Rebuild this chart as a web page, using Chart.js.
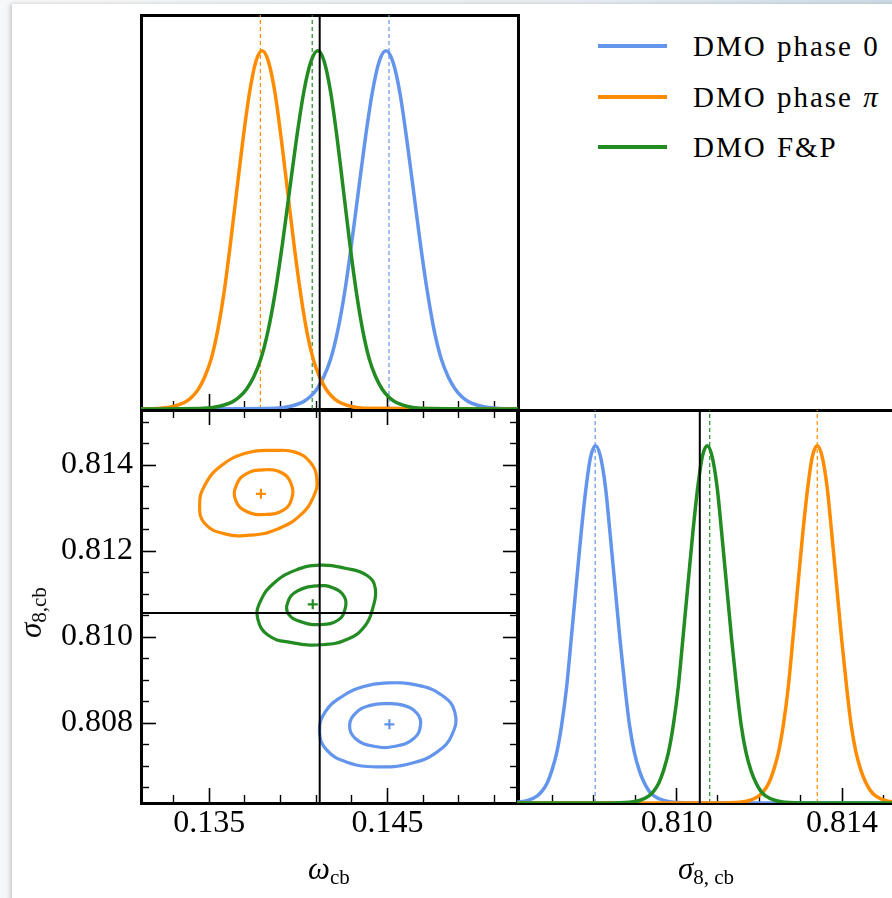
<!DOCTYPE html>
<html>
<head>
<meta charset="utf-8">
<title>Corner plot: omega_cb / sigma_8,cb</title>
<script src="https://cdn.jsdelivr.net/npm/chart.js@4.4.1/dist/chart.umd.min.js"></script>
<style>
  html, body {
    margin: 0;
    padding: 0;
    width: 892px;
    height: 898px;
    overflow: hidden;
    background: linear-gradient(to right, #f6f7f8, #e8eef3 65%, #cddce8);
    font-family: "Liberation Serif", "Times New Roman", serif;
  }
  .sheet {
    position: absolute;
    left: 12px;
    top: 4px;
    width: 900px;
    height: 900px;
    background: #fff;
    box-shadow: -2px 0 4px rgba(0, 0, 0, 0.18);
  }
  canvas { position: absolute; }
  #topChart { left: 0; top: 0; }
  #jointChart { left: 0; top: 400px; }
  #sigmaChart { left: 505px; top: 400px; }
  .label {
    position: absolute;
    font-size: 31px;
    line-height: 30px;
    white-space: nowrap;
    color: #000;
  }
  .label sub {
    font-size: 21px;
    font-style: normal;
    vertical-align: baseline;
    position: relative;
    top: 5px;
  }
  .legend-row { position: absolute; left: 598px; height: 30px; }
  .legend-line { position: absolute; left: 0; width: 69px; height: 4px; }
  .legend-text {
    position: absolute;
    left: 95px;
    font-family: "Liberation Serif", "Times New Roman", serif;
    font-size: 29px;
    line-height: 34px;
    letter-spacing: 2px;
    word-spacing: 1px;
    white-space: nowrap;
    color: #000;
  }
</style>
</head>
<body>
<div class="sheet"></div>
<canvas id="topChart" width="528" height="420"></canvas>
<canvas id="jointChart" width="528" height="460"></canvas>
<canvas id="sigmaChart" width="400" height="460"></canvas>

<div class="label" style="left:308px; top:854px;"><i>ω</i><sub>cb</sub></div>
<div class="label" style="left:678px; top:854px;"><i>σ</i><sub>8, cb</sub></div>
<div class="label" style="left:7px; top:596px; transform: rotate(-90deg);"><i>σ</i><sub>8,cb</sub></div>
<div id="legend"></div>

<script>
// Series
const seriesLabels = ["DMO phase 0", "DMO phase π", "DMO F&P"];
const seriesColors = ["#6495ED", "#FF8C00", "#228B22"];

// Axis ranges
const omegaRange = [0.13117, 0.15233];
const sigmaRange = [0.80614, 0.81528];
const peakRange = [0, 1.1];

// Tick values
const omegaMajorTicks = [0.135, 0.145];
const omegaMinorTicks = [0.133, 0.137, 0.139, 0.141, 0.143, 0.147, 0.149, 0.151];
const sigmaMajorTicks = [0.808, 0.81, 0.812, 0.814];
const sigmaMinorTicks = [0.8065, 0.807, 0.8075, 0.8085, 0.809, 0.8095, 0.8105, 0.811, 0.8115, 0.8125, 0.813, 0.8135, 0.8145, 0.815];
const sigmaMarginalMajorTicks = [0.81, 0.814];
const sigmaMarginalMinorTicks = [0.807, 0.808, 0.809, 0.811, 0.812, 0.813, 0.815];

// Fiducial values (solid black lines)
const truthOmega = 0.1412;
const truthSigma = 0.81056;

// Marginal means (dashed lines), order: phase 0, phase pi, F&P
const meanOmega = [0.14509, 0.13787, 0.14078];
const meanSigma = [0.80803, 0.8134, 0.8108];

// omega_cb marginals (normalised to peak 1)
const omegaX0 = [0.13117, 0.13872, 0.1395, 0.14027, 0.14066, 0.14105, 0.14143, 0.14182, 0.14221, 0.1426, 0.14298, 0.14337, 0.14376, 0.14415, 0.14453, 0.14492, 0.14531, 0.1457, 0.14608, 0.14647, 0.14686, 0.14725, 0.14763, 0.14802, 0.14841, 0.1488, 0.14918, 0.14957, 0.15035, 0.15112, 0.15233];
const omegaY0 = [0, 0.002, 0.007, 0.02, 0.034, 0.056, 0.09, 0.14, 0.218, 0.325, 0.458, 0.607, 0.755, 0.883, 0.969, 1, 0.969, 0.883, 0.755, 0.607, 0.458, 0.325, 0.218, 0.14, 0.09, 0.056, 0.034, 0.02, 0.007, 0.002, 0];
const omegaXPi = [0.13117, 0.13225, 0.13297, 0.13368, 0.13404, 0.1344, 0.13475, 0.13511, 0.13547, 0.13583, 0.13618, 0.13654, 0.1369, 0.13726, 0.13761, 0.13797, 0.13833, 0.13869, 0.13904, 0.1394, 0.13976, 0.14012, 0.14047, 0.14083, 0.14119, 0.14155, 0.1419, 0.14226, 0.14298, 0.14369, 0.15233];
const omegaYPi = [0, 0.002, 0.007, 0.02, 0.034, 0.056, 0.09, 0.14, 0.218, 0.325, 0.458, 0.607, 0.755, 0.883, 0.969, 1, 0.969, 0.883, 0.755, 0.607, 0.458, 0.325, 0.218, 0.14, 0.09, 0.056, 0.034, 0.02, 0.007, 0.002, 0];
const omegaXFP = [0.13117, 0.1347, 0.1355, 0.1363, 0.1367, 0.1371, 0.1375, 0.1379, 0.1383, 0.1387, 0.1391, 0.1395, 0.1399, 0.1403, 0.1407, 0.1411, 0.14146, 0.14182, 0.14218, 0.14254, 0.1429, 0.14326, 0.14362, 0.14398, 0.14434, 0.1447, 0.14506, 0.14542, 0.14614, 0.14686, 0.15233];
const omegaYFP = [0, 0.002, 0.007, 0.02, 0.034, 0.056, 0.09, 0.14, 0.218, 0.325, 0.458, 0.607, 0.755, 0.883, 0.969, 1, 0.969, 0.883, 0.755, 0.607, 0.458, 0.325, 0.218, 0.14, 0.09, 0.056, 0.034, 0.02, 0.007, 0.002, 0];

// sigma_8,cb marginals (normalised to peak 1)
const sigmaX0 = [0.80614, 0.8064, 0.80663, 0.80675, 0.80687, 0.80698, 0.8071, 0.80722, 0.80734, 0.80745, 0.80757, 0.80769, 0.80781, 0.80792, 0.80804, 0.80816, 0.80828, 0.80839, 0.80851, 0.80863, 0.80875, 0.80886, 0.80898, 0.8091, 0.80922, 0.80933, 0.80945, 0.80969, 0.80992, 0.8105, 0.81528];
const sigmaY0 = [0.002, 0.007, 0.02, 0.034, 0.056, 0.09, 0.14, 0.218, 0.325, 0.458, 0.607, 0.755, 0.883, 0.969, 1, 0.969, 0.883, 0.755, 0.607, 0.458, 0.325, 0.218, 0.14, 0.09, 0.056, 0.034, 0.02, 0.007, 0.002, 0, 0];
const sigmaXPi = [0.80614, 0.811, 0.81152, 0.81176, 0.81199, 0.81211, 0.81223, 0.81234, 0.81246, 0.81258, 0.8127, 0.81281, 0.81293, 0.81305, 0.81317, 0.81328, 0.8134, 0.81352, 0.81364, 0.81375, 0.81387, 0.81399, 0.81411, 0.81422, 0.81434, 0.81446, 0.81458, 0.81469, 0.81481, 0.81505, 0.81528];
const sigmaYPi = [0, 0, 0.002, 0.007, 0.02, 0.034, 0.056, 0.09, 0.14, 0.218, 0.325, 0.458, 0.607, 0.755, 0.883, 0.969, 1, 0.969, 0.883, 0.755, 0.607, 0.458, 0.325, 0.218, 0.14, 0.09, 0.056, 0.034, 0.02, 0.007, 0.002];
const sigmaXFP = [0.80614, 0.8083, 0.80886, 0.8091, 0.80933, 0.80945, 0.80957, 0.80968, 0.8098, 0.80992, 0.81004, 0.81015, 0.81027, 0.81039, 0.81051, 0.81062, 0.81074, 0.81086, 0.81098, 0.81109, 0.81121, 0.81133, 0.81145, 0.81156, 0.81168, 0.8118, 0.81192, 0.81203, 0.81215, 0.81239, 0.81262, 0.8132, 0.81528];
const sigmaYFP = [0, 0, 0.002, 0.007, 0.02, 0.034, 0.056, 0.09, 0.14, 0.218, 0.325, 0.458, 0.607, 0.755, 0.883, 0.969, 1, 0.969, 0.883, 0.755, 0.607, 0.458, 0.325, 0.218, 0.14, 0.09, 0.056, 0.034, 0.02, 0.007, 0.002, 0, 0];

// 2D contours [omega_cb, sigma_8,cb], read clockwise
const contour0Outer = [[0.14479, 0.80893], [0.14667, 0.80888], [0.14808, 0.80864], [0.14878, 0.80826], [0.14865, 0.80775], [0.1478, 0.80733], [0.1463, 0.80706], [0.14442, 0.80698], [0.14273, 0.80709], [0.1416, 0.80737], [0.14119, 0.80779], [0.14151, 0.80826], [0.14254, 0.80864], [0.14367, 0.80885]];
const contour0Inner = [[0.14489, 0.80845], [0.14592, 0.80841], [0.14667, 0.80822], [0.14686, 0.80795], [0.14648, 0.80764], [0.14545, 0.80746], [0.14423, 0.80746], [0.1432, 0.80764], [0.14288, 0.80795], [0.14329, 0.80826], [0.14404, 0.80841]];
const contourPiOuter = [[0.13869, 0.81434], [0.13982, 0.8143], [0.14066, 0.81407], [0.14104, 0.81368], [0.14085, 0.81326], [0.1401, 0.81283], [0.13888, 0.81252], [0.13738, 0.81237], [0.13587, 0.8124], [0.13475, 0.81264], [0.13446, 0.81306], [0.13475, 0.81353], [0.13569, 0.81399], [0.13719, 0.81429]];
const contourPiInner = [[0.13813, 0.81389], [0.13907, 0.81382], [0.13959, 0.81357], [0.13963, 0.81322], [0.13916, 0.81295], [0.13813, 0.81285], [0.1371, 0.81292], [0.13648, 0.81318], [0.13653, 0.81354], [0.1371, 0.8138]];
const contourFPOuter = [[0.14123, 0.81167], [0.14263, 0.8116], [0.14386, 0.81143], [0.14432, 0.81113], [0.14417, 0.81066], [0.14376, 0.81027], [0.14282, 0.80996], [0.14132, 0.80982], [0.13963, 0.80987], [0.13831, 0.81004], [0.13772, 0.81043], [0.13785, 0.81081], [0.13859, 0.81124], [0.13982, 0.81155]];
const contourFPInner = [[0.14104, 0.81119], [0.14197, 0.81114], [0.14259, 0.81093], [0.14263, 0.81066], [0.14222, 0.81039], [0.14123, 0.81029], [0.14019, 0.81035], [0.13944, 0.81054], [0.13941, 0.81081], [0.13991, 0.81106]];

// Best-fit points (crosses)
const bestOmega = [0.14511, 0.1379, 0.14081];
const bestSigma = [0.80797, 0.81333, 0.81076];

const SERIF = "'Liberation Serif', 'Times New Roman', serif";
Chart.defaults.font.family = SERIF;
Chart.defaults.color = "#000";

// helpers
function zip(xs, ys) {
  return xs.map((x, i) => ({ x: x, y: ys[i] }));
}

function curve(data, color, width) {
  return {
    data: data,
    borderColor: color,
    borderWidth: width,
    pointRadius: 0,
    fill: false,
    cubicInterpolationMode: "monotone",
  };
}

function contour(points, color) {
  return {
    data: points.map(([x, y]) => ({ x: x, y: y })),
    closed: true,
    borderColor: color,
    borderWidth: 3.2,
    pointRadius: 0,
    fill: false,
    tension: 0.45,
  };
}

// contour lines are closed loops: let the line element wrap around
const closeContours = {
  id: "closeContours",
  afterDatasetsUpdate(chart) {
    chart.data.datasets.forEach((ds, i) => {
      if (!ds.closed) return;
      const line = chart.getDatasetMeta(i).dataset;
      line._loop = true;
      line._fullLoop = true;
      line._segments = undefined;
      line._path = undefined;
      line._pointsUpdated = false;
    });
  },
};

function vline(x, range, color, width, dash) {
  return {
    data: [{ x: x, y: range[0] }, { x: x, y: range[1] }],
    borderColor: color,
    borderWidth: width,
    borderDash: dash,
    pointRadius: 0,
    tension: 0,
  };
}

function hline(y, range, color, width) {
  return {
    data: [{ x: range[0], y: y }, { x: range[1], y: y }],
    borderColor: color,
    borderWidth: width,
    pointRadius: 0,
    tension: 0,
  };
}

// fixed scale size, no extra padding from the tick labels
function pinSize(horizontal, size) {
  return (s) => {
    if (horizontal) s.height = size;
    else s.width = size;
    s.paddingTop = 0;
    s.paddingBottom = 0;
    s.paddingLeft = 0;
    s.paddingRight = 0;
  };
}

// One side of a panel: the border with long ticks (and labels), plus a
// zero-size companion scale that only draws the short ticks.
function side(id, position, range, size, major, minor, showLabels) {
  const horizontal = position === "top" || position === "bottom";
  const axis = horizontal ? "x" : "y";
  const scales = {};
  scales[id] = {
    type: "linear",
    axis: axis,
    position: position,
    min: range[0],
    max: range[1],
    weight: 1,
    afterBuildTicks: (s) => {
      if (major.length) s.ticks = major.map((v) => ({ value: v }));
    },
    afterFit: pinSize(horizontal, size),
    grid: {
      display: major.length > 0,
      drawOnChartArea: false,
      drawTicks: true,
      tickLength: -15,
      tickWidth: 1.6,
      tickColor: "#000",
    },
    border: { display: true, color: "#000", width: 3 },
    ticks: {
      display: showLabels,
      padding: horizontal ? 16 : 23,
      color: "#000",
      font: { family: SERIF, size: 32 },
      callback: (v) => Number(v).toFixed(3),
    },
  };
  if (minor.length) {
    scales[id + "Minor"] = {
      type: "linear",
      axis: axis,
      position: position,
      min: range[0],
      max: range[1],
      weight: 0,
      afterBuildTicks: (s) => {
        s.ticks = minor.map((v) => ({ value: v }));
      },
      afterFit: pinSize(horizontal, 0),
      grid: {
        display: true,
        drawOnChartArea: false,
        drawTicks: true,
        tickLength: -8,
        tickWidth: 1.4,
        tickColor: "#000",
      },
      border: { display: false },
      ticks: { display: false },
    };
  }
  return scales;
}

const baseOptions = {
  responsive: false,
  maintainAspectRatio: false,
  animation: false,
  layout: { padding: 0 },
  plugins: { legend: { display: false }, tooltip: { enabled: false } },
  elements: { point: { radius: 0 } },
};

// Top panel: omega_cb marginals
new Chart(document.getElementById("topChart"), {
  type: "line",
  data: {
    datasets: [
      vline(truthOmega, peakRange, "#000", 2, []),
      curve(zip(omegaXFP, omegaYFP), seriesColors[2], 3.5),
      curve(zip(omegaXPi, omegaYPi), seriesColors[1], 3.5),
      curve(zip(omegaX0, omegaY0), seriesColors[0], 3.5),
      vline(meanOmega[2], peakRange, seriesColors[2], 1.2, [4, 3]),
      vline(meanOmega[1], peakRange, seriesColors[1], 1.2, [4, 3]),
      vline(meanOmega[0], peakRange, seriesColors[0], 1.2, [4, 3]),
    ],
  },
  options: {
    ...baseOptions,
    scales: {
      ...side("x", "bottom", omegaRange, 11, omegaMajorTicks, omegaMinorTicks, false),
      ...side("xTop", "top", omegaRange, 15, [], [], false),
      ...side("y", "left", peakRange, 141, [], [], false),
      ...side("yRight", "right", peakRange, 10, [], [], false),
    },
  },
});

// Bottom-left panel: 2D contours
const jointDatasets = [
  vline(truthOmega, sigmaRange, "#000", 2, []),
  hline(truthSigma, omegaRange, "#000", 2),
];
[
  [contour0Outer, contour0Inner],
  [contourPiOuter, contourPiInner],
  [contourFPOuter, contourFPInner],
].forEach((pair, i) => {
  jointDatasets.push(contour(pair[0], seriesColors[i]));
  jointDatasets.push(contour(pair[1], seriesColors[i]));
  jointDatasets.push({
    data: [{ x: bestOmega[i], y: bestSigma[i] }],
    showLine: false,
    pointStyle: "cross",
    pointRadius: 5,
    pointBorderWidth: 2.2,
    pointBorderColor: seriesColors[i],
    borderColor: seriesColors[i],
  });
});

new Chart(document.getElementById("jointChart"), {
  type: "line",
  data: { datasets: jointDatasets },
  plugins: [closeContours],
  options: {
    ...baseOptions,
    scales: {
      ...side("x", "bottom", omegaRange, 57, omegaMajorTicks, omegaMinorTicks, true),
      ...side("xTop", "top", omegaRange, 10, omegaMajorTicks, omegaMinorTicks, false),
      ...side("y", "left", sigmaRange, 141, sigmaMajorTicks, sigmaMinorTicks, true),
      ...side("yRight", "right", sigmaRange, 10, sigmaMajorTicks, sigmaMinorTicks, false),
    },
  },
});

// Bottom-right panel: sigma_8,cb marginals
new Chart(document.getElementById("sigmaChart"), {
  type: "line",
  data: {
    datasets: [
      vline(truthSigma, peakRange, "#000", 2, []),
      curve(zip(sigmaXFP, sigmaYFP), seriesColors[2], 3.5),
      curve(zip(sigmaXPi, sigmaYPi), seriesColors[1], 3.5),
      curve(zip(sigmaX0, sigmaY0), seriesColors[0], 3.5),
      vline(meanSigma[2], peakRange, seriesColors[2], 1.2, [4, 3]),
      vline(meanSigma[1], peakRange, seriesColors[1], 1.2, [4, 3]),
      vline(meanSigma[0], peakRange, seriesColors[0], 1.2, [4, 3]),
    ],
  },
  options: {
    ...baseOptions,
    scales: {
      ...side("x", "bottom", sigmaRange, 57, sigmaMarginalMajorTicks, sigmaMarginalMinorTicks, true),
      ...side("xTop", "top", sigmaRange, 10, [], [], false),
      ...side("y", "left", peakRange, 12, [], [], false),
      ...side("yRight", "right", peakRange, 10, [], [], false),
    },
  },
});

// Legend
const legendRows = [46, 97, 147];
const legend = document.getElementById("legend");
seriesLabels.forEach((label, i) => {
  const row = document.createElement("div");
  row.className = "legend-row";
  row.style.top = legendRows[i] + "px";

  const line = document.createElement("span");
  line.className = "legend-line";
  line.style.top = "-2px";
  line.style.background = seriesColors[i];
  row.appendChild(line);

  const text = document.createElement("span");
  text.className = "legend-text";
  text.style.top = "-17px";
  text.innerHTML = label.replace("&", "&amp;").replace("π", "<i>π</i>");
  row.appendChild(text);

  legend.appendChild(row);
});
</script>
</body>
</html>
